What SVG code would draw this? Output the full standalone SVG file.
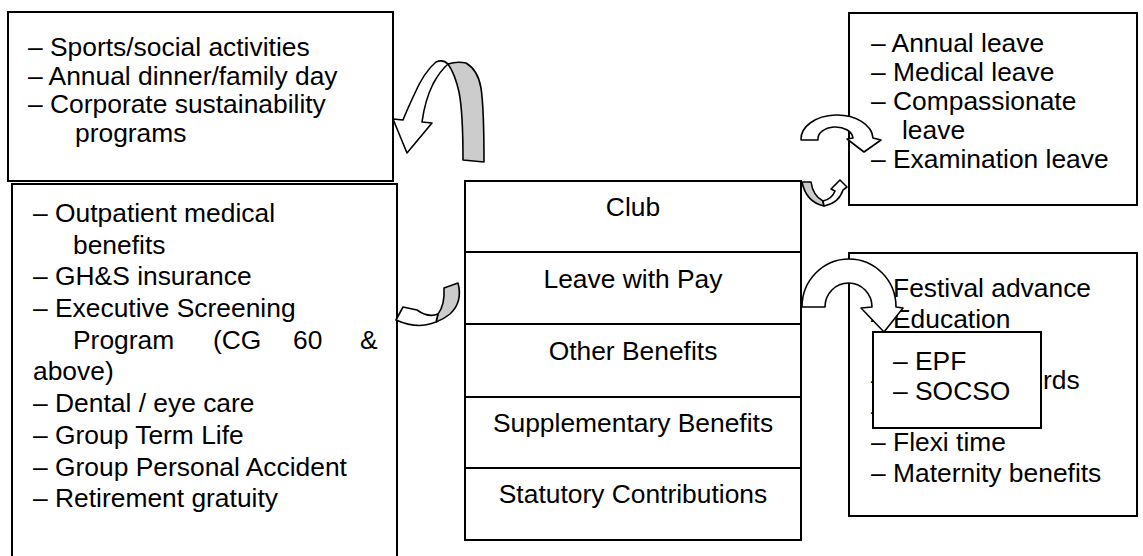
<svg xmlns="http://www.w3.org/2000/svg" width="1143" height="556" viewBox="0 0 1143 556">
  <style>
    .box { fill: #ffffff; stroke: #000000; stroke-width: 2; }
    .t { font-family: "Liberation Sans", Arial, sans-serif; font-size: 26.4px; fill: #000000; }
    .c { text-anchor: middle; }
    .arw { fill: #ffffff; stroke: #000000; stroke-width: 1.6; stroke-linejoin: round; }
    .arw-back { fill: #cccccc; stroke: #000000; stroke-width: 1.6; stroke-linejoin: round; }
  </style>
  <rect width="1143" height="556" fill="#ffffff"/>

  <!-- Club activities -->
  <g id="club-list">
    <rect class="box" x="8" y="12" width="385" height="169"/>
    <text class="t" x="28" y="56">– Sports/social activities</text>
    <text class="t" x="28" y="85">– Annual dinner/family day</text>
    <text class="t" x="28" y="113">– Corporate sustainability</text>
    <text class="t" x="75" y="142">programs</text>
  </g>

  <!-- Supplementary benefits -->
  <g id="supplementary-list">
    <rect class="box" x="12" y="184" width="385" height="380"/>
    <text class="t" x="33" y="222">– Outpatient medical</text>
    <text class="t" x="73" y="254">benefits</text>
    <text class="t" x="33" y="285">– GH&amp;S insurance</text>
    <text class="t" x="33" y="317">– Executive Screening</text>
    <text class="t" y="349"><tspan x="73">Program</tspan><tspan x="213">(CG</tspan><tspan x="293">60</tspan><tspan x="360">&amp;</tspan></text>
    <text class="t" x="33" y="380">above)</text>
    <text class="t" x="33" y="412">– Dental / eye care</text>
    <text class="t" x="33" y="444">– Group Term Life</text>
    <text class="t" x="33" y="476">– Group Personal Accident</text>
    <text class="t" x="33" y="507">– Retirement gratuity</text>
  </g>

  <!-- Benefit categories -->
  <g id="categories">
    <rect class="box" x="465" y="181" width="336" height="359"/>
    <line x1="465" y1="252" x2="801" y2="252" stroke="#000" stroke-width="2"/>
    <line x1="465" y1="324" x2="801" y2="324" stroke="#000" stroke-width="2"/>
    <line x1="465" y1="397" x2="801" y2="397" stroke="#000" stroke-width="2"/>
    <line x1="465" y1="468" x2="801" y2="468" stroke="#000" stroke-width="2"/>
    <text class="t c" x="633" y="216">Club</text>
    <text class="t c" x="633" y="288">Leave with Pay</text>
    <text class="t c" x="633" y="360">Other Benefits</text>
    <text class="t c" x="633" y="432">Supplementary Benefits</text>
    <text class="t c" x="633" y="503">Statutory Contributions</text>
  </g>

  <!-- Leave types -->
  <g id="leave-list">
    <rect class="box" x="849" y="13" width="288" height="192"/>
    <text class="t" x="871" y="52">– Annual leave</text>
    <text class="t" x="871" y="81">– Medical leave</text>
    <text class="t" x="871" y="110">– Compassionate</text>
    <text class="t" x="902" y="139">leave</text>
    <text class="t" x="871" y="168">– Examination leave</text>
  </g>

  <!-- Other benefits -->
  <g id="other-list">
    <rect class="box" x="849" y="253" width="288" height="263"/>
    <text class="t" x="871" y="297">– Festival advance</text>
    <text class="t" x="871" y="328">– Education</text>
    <text class="t" x="871" y="389">–</text>
    <text class="t" x="1043" y="389">rds</text>
    <text class="t" x="871" y="420">–</text>
    <text class="t" x="871" y="451">– Flexi time</text>
    <text class="t" x="871" y="482">– Maternity benefits</text>
  </g>

  <!-- Statutory contributions -->
  <g id="statutory-list">
    <rect class="box" x="873" y="332" width="168" height="96"/>
    <text class="t" x="893" y="370">– EPF</text>
    <text class="t" x="893" y="400">– SOCSO</text>
  </g>

  <!-- Curved block arrows -->
  <g id="connectors">
    <!-- Club to activities -->
    <path class="arw-back" d="M448,64 Q457,61 466,63 Q478,70 481,88 Q484,108 484,162 L463,160 Q463,112 459,92 Q455,74 448,64 Z"/>
    <path class="arw" d="M448,64 Q443,59 436,62 Q424,72 414,95 Q407,110 403,120 L393,119 L407,153 L432,123 L422,122 Q425,100 433,84 Q440,71 448,64 Z"/>
    <!-- Supplementary benefits -->
    <path class="arw-back" d="M444,288 L458,283 Q463,302 450,314 Q444,319 436,322 L438,314 Q445,305 444,288 Z"/>
    <path class="arw" d="M438,314 Q428,318 417,310 L403,307 L396,320 Q412,327 425,325 Q431,324 436,322 Z"/>
    <!-- Club corner to leave list -->
    <path class="arw-back" d="M802,182 L811,182 Q813,196 823,201 L824,206 Q806,202 802,182 Z"/>
    <path class="arw" d="M823,201 Q832,199 835,191 L831,189 L840,180 L847,187 L843,190 Q839,203 824,206 Z"/>
    <!-- Leave with pay -->
    <path class="arw" d="M801,140 A36,24 0 0 1 873,138 L881,140 L864,152 L847,139 L853,138 A17.5,12 0 0 0 818,140 Z"/>
    <!-- Other benefits / statutory -->
    <path class="arw" d="M802,307 A47,48 0 0 1 896,307 L903,308 L884,332 L861,308 L872,307 A23.5,24 0 0 0 825,307 Z"/>
  </g>
</svg>
